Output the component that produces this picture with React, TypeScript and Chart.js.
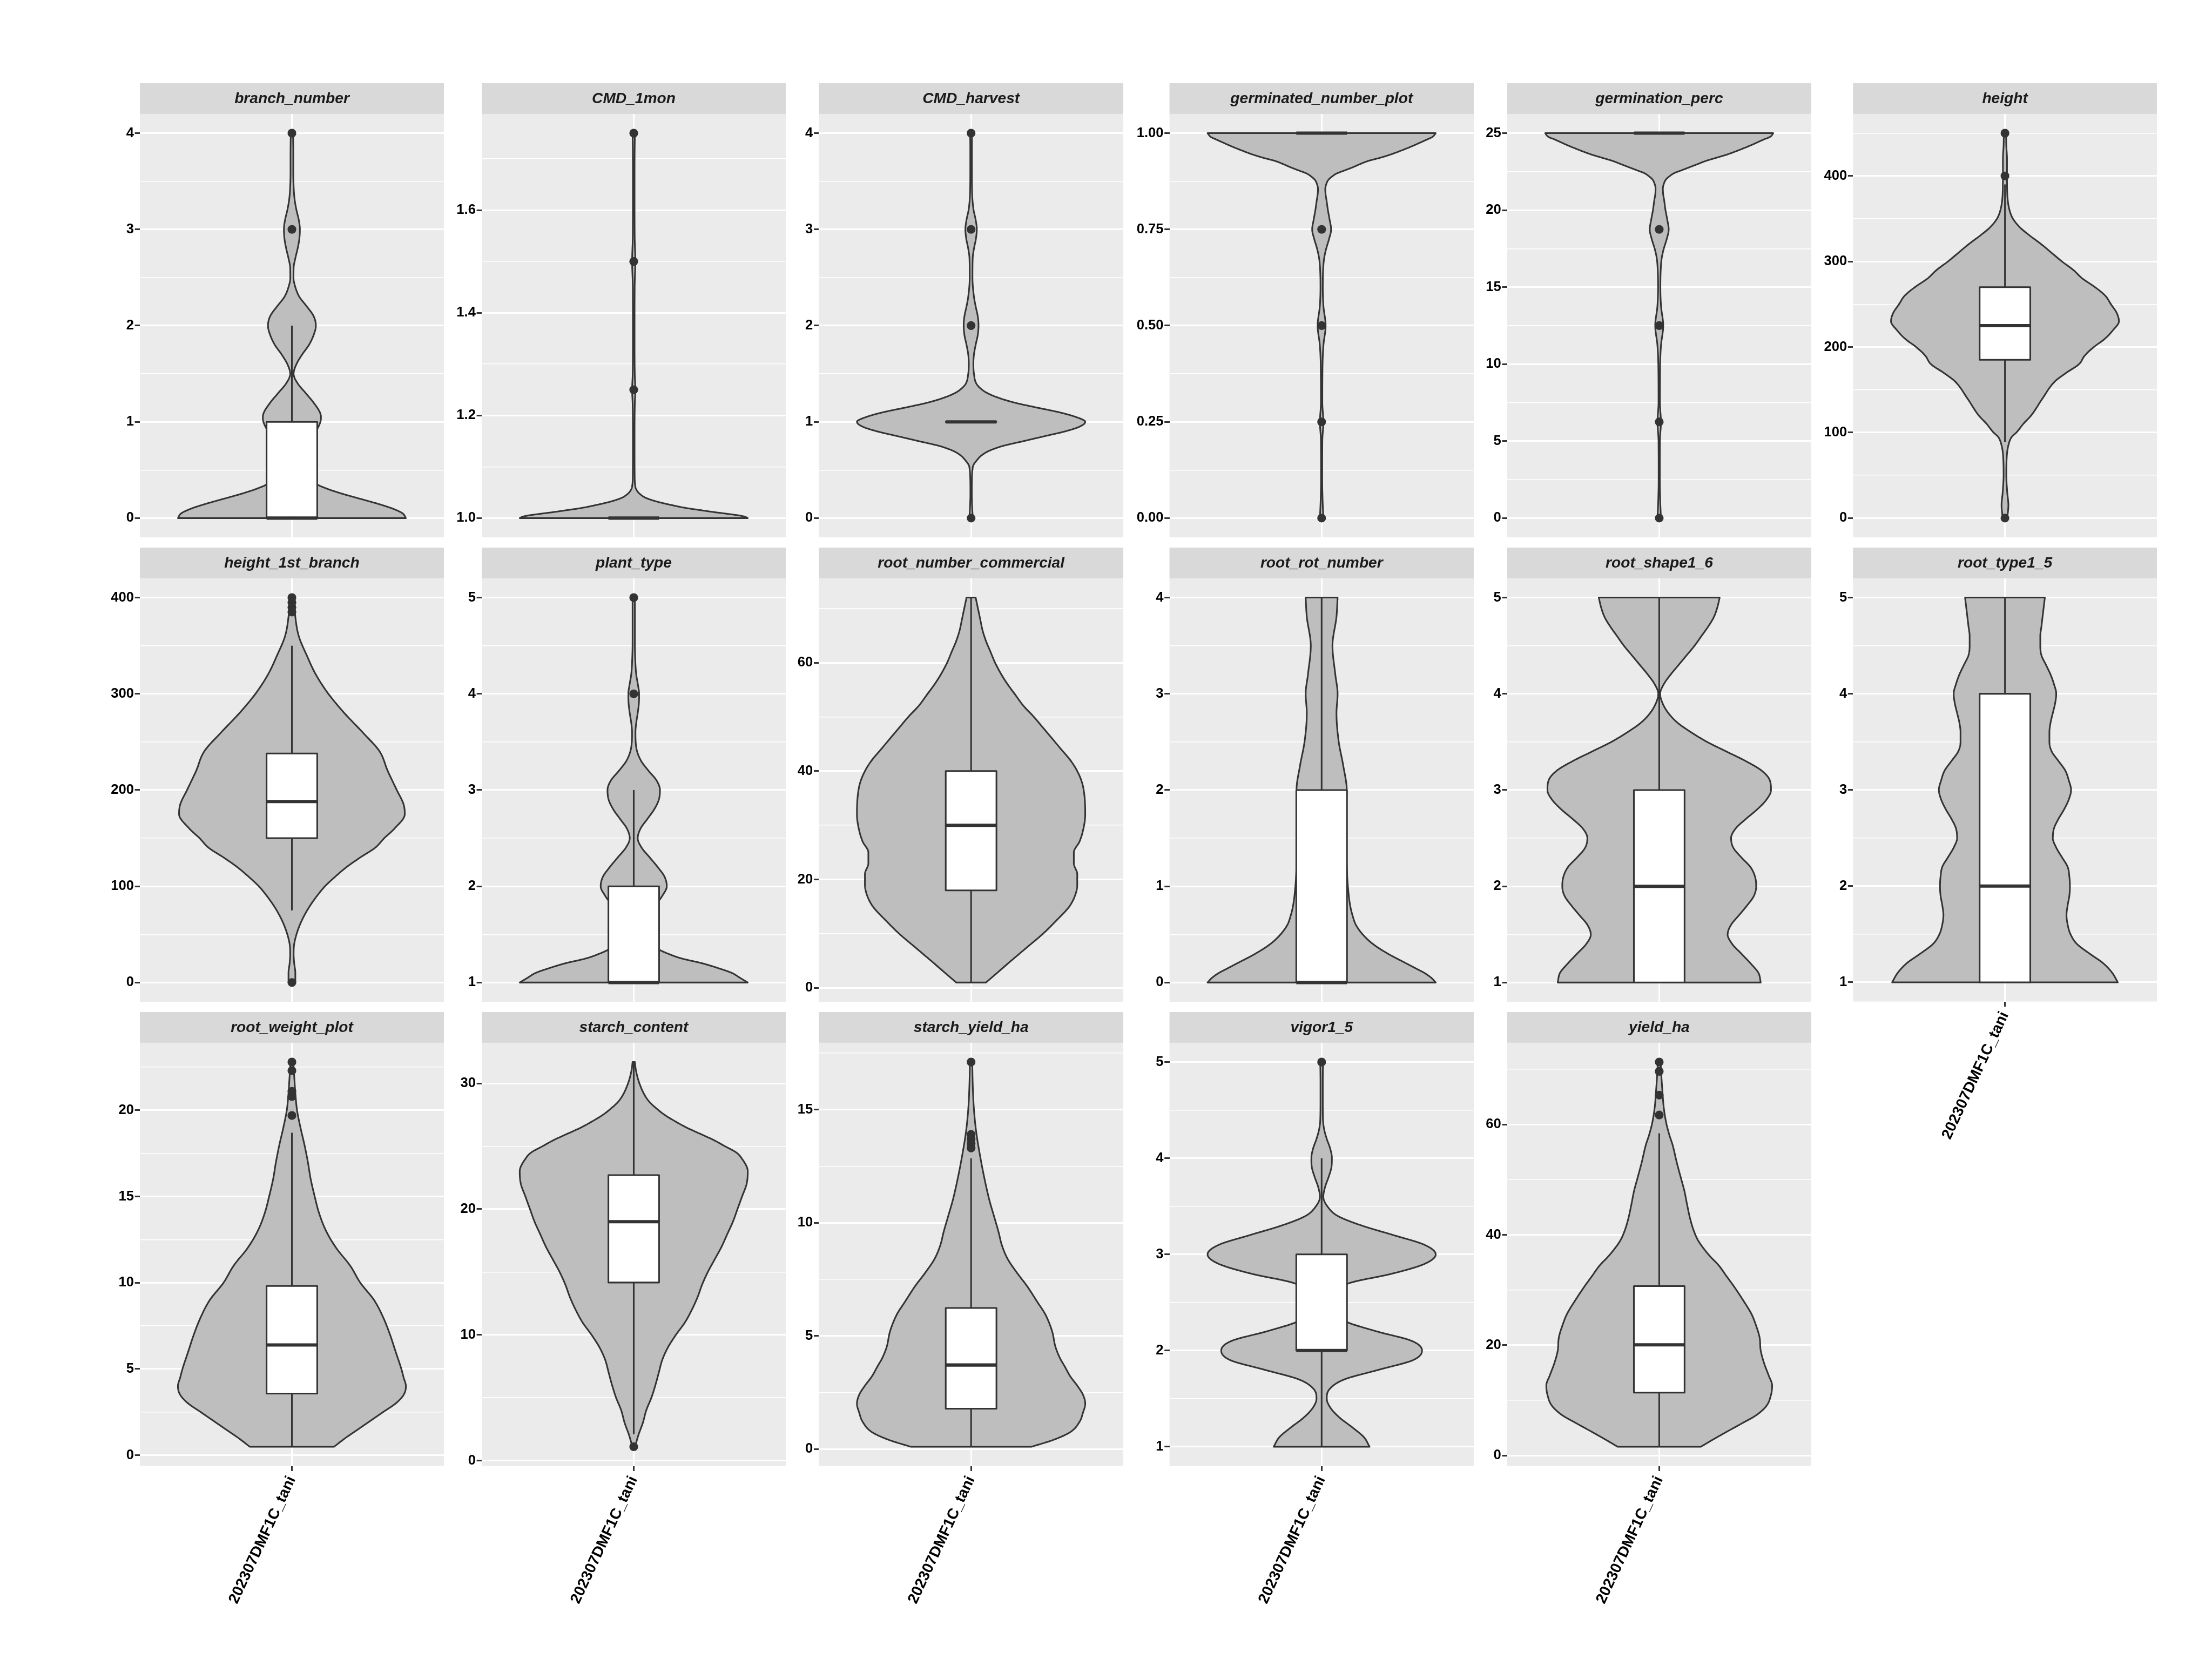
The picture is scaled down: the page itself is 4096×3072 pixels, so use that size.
import React, { useEffect, useRef } from "react";
import { Chart, registerables } from "chart.js";

Chart.register(...registerables);

// ---------------- DATA ----------------
// Violin profiles: [value, relative half-width (1 = widest)]
const V_branch_number: number[][] = [[0,1.0],[0.05,0.97],[0.1,0.88],[0.15,0.75],[0.2,0.6],[0.25,0.45],[0.3,0.32],[0.35,0.22],[0.4,0.17],[0.5,0.13],[0.6,0.12],[0.7,0.13],[0.8,0.16],[0.9,0.21],[1.0,0.25],[1.05,0.255],[1.1,0.245],[1.2,0.19],[1.3,0.12],[1.4,0.05],[1.5,0.015],[1.6,0.04],[1.7,0.09],[1.8,0.15],[1.9,0.19],[2.0,0.21],[2.1,0.19],[2.2,0.13],[2.3,0.065],[2.4,0.03],[2.5,0.014],[2.6,0.015],[2.7,0.03],[2.8,0.05],[2.9,0.065],[3.0,0.07],[3.1,0.06],[3.2,0.04],[3.3,0.025],[3.4,0.017],[3.6,0.012],[3.8,0.012],[4.0,0.01]];
const V_CMD_1mon: number[][] = [[1.0,1.0],[1.003,0.97],[1.006,0.9],[1.01,0.76],[1.015,0.6],[1.02,0.45],[1.025,0.34],[1.03,0.24],[1.035,0.16],[1.04,0.1],[1.045,0.065],[1.05,0.04],[1.057,0.02],[1.065,0.012],[1.08,0.008],[1.15,0.007],[1.22,0.009],[1.25,0.014],[1.28,0.009],[1.35,0.007],[1.45,0.008],[1.5,0.014],[1.55,0.008],[1.65,0.007],[1.72,0.008],[1.75,0.01]];
const V_CMD_harvest: number[][] = [[0,0.015],[0.1,0.01],[0.25,0.006],[0.4,0.007],[0.5,0.012],[0.55,0.02],[0.6,0.05],[0.65,0.09],[0.7,0.16],[0.75,0.28],[0.8,0.46],[0.85,0.64],[0.9,0.82],[0.95,0.95],[1.0,1.0],[1.05,0.92],[1.1,0.77],[1.15,0.57],[1.2,0.38],[1.25,0.24],[1.3,0.14],[1.35,0.08],[1.4,0.045],[1.5,0.025],[1.6,0.02],[1.7,0.025],[1.8,0.04],[1.9,0.058],[2.0,0.065],[2.1,0.058],[2.2,0.04],[2.3,0.025],[2.5,0.012],[2.7,0.014],[2.8,0.025],[2.9,0.042],[3.0,0.05],[3.1,0.04],[3.2,0.022],[3.35,0.01],[3.6,0.007],[3.9,0.007],[4.0,0.01]];
const V_germinated_number_plot: number[][] = [[0,0.015],[0.05,0.008],[0.1,0.005],[0.2,0.006],[0.25,0.015],[0.3,0.006],[0.4,0.008],[0.45,0.016],[0.5,0.035],[0.55,0.016],[0.6,0.01],[0.65,0.014],[0.675,0.022],[0.7,0.04],[0.725,0.065],[0.75,0.083],[0.775,0.07],[0.8,0.055],[0.827,0.042],[0.84,0.035],[0.855,0.032],[0.867,0.04],[0.879,0.06],[0.887,0.09],[0.895,0.13],[0.903,0.2],[0.911,0.27],[0.92,0.34],[0.928,0.41],[0.935,0.5],[0.943,0.59],[0.955,0.7],[0.967,0.8],[0.975,0.86],[0.983,0.92],[0.99,0.97],[1.0,1.0]];
const V_germination_perc: number[][] = [[0,0.015],[1.25,0.008],[2.5,0.005],[5,0.006],[6.25,0.015],[7.5,0.006],[10,0.008],[11.25,0.016],[12.5,0.035],[13.75,0.016],[15,0.01],[16.25,0.014],[16.9,0.022],[17.5,0.04],[18.1,0.065],[18.75,0.083],[19.4,0.07],[20,0.055],[20.7,0.042],[21,0.035],[21.4,0.032],[21.7,0.04],[22,0.06],[22.2,0.09],[22.4,0.13],[22.6,0.2],[22.8,0.27],[23,0.34],[23.2,0.41],[23.4,0.5],[23.6,0.59],[23.9,0.7],[24.2,0.8],[24.4,0.86],[24.6,0.92],[24.75,0.97],[25,1.0]];
const V_height: number[][] = [[0,0.02],[15,0.03],[30,0.02],[50,0.012],[70,0.015],[85,0.03],[95,0.06],[100,0.1],[110,0.16],[120,0.23],[140,0.33],[160,0.44],[170,0.54],[180,0.65],[190,0.7],[200,0.78],[210,0.88],[220,0.95],[230,1.0],[240,0.98],[250,0.93],[260,0.88],[270,0.79],[280,0.68],[290,0.6],[300,0.5],[310,0.41],[320,0.32],[330,0.22],[340,0.13],[350,0.07],[360,0.04],[380,0.02],[400,0.018],[420,0.018],[435,0.012],[450,0.01]];
const V_height_1st_branch: number[][] = [[0,0.03],[10,0.03],[20,0.02],[30,0.015],[40,0.02],[50,0.04],[60,0.07],[70,0.11],[80,0.16],[90,0.22],[100,0.29],[110,0.38],[120,0.48],[130,0.6],[140,0.73],[150,0.81],[160,0.9],[175,0.99],[185,0.98],[200,0.92],[220,0.84],[240,0.77],[260,0.62],[280,0.46],[300,0.32],[320,0.21],[340,0.13],[360,0.06],[380,0.03],[400,0.02]];
const V_plant_type: number[][] = [[1.0,1.0],[1.05,0.93],[1.1,0.86],[1.15,0.74],[1.2,0.6],[1.25,0.42],[1.3,0.3],[1.35,0.21],[1.4,0.16],[1.5,0.12],[1.6,0.12],[1.7,0.14],[1.8,0.19],[1.9,0.25],[2.0,0.29],[2.1,0.27],[2.2,0.21],[2.3,0.14],[2.4,0.07],[2.5,0.035],[2.6,0.06],[2.7,0.12],[2.8,0.18],[2.9,0.22],[3.0,0.23],[3.1,0.2],[3.2,0.13],[3.3,0.066],[3.4,0.03],[3.5,0.017],[3.6,0.015],[3.7,0.022],[3.8,0.035],[3.9,0.045],[4.0,0.047],[4.1,0.036],[4.2,0.022],[4.4,0.012],[4.6,0.01],[4.8,0.01],[5.0,0.01]];
const V_root_number_commercial: number[][] = [[1,0.13],[3,0.24],[5,0.35],[7.5,0.49],[10,0.63],[12.5,0.75],[15,0.86],[17,0.91],[19,0.93],[21,0.93],[23,0.9],[25,0.9],[27,0.95],[29,0.98],[32,1.0],[36,0.99],[38,0.97],[40,0.93],[42,0.87],[44,0.79],[46,0.71],[48,0.63],[50,0.55],[52,0.46],[54,0.39],[56,0.32],[58,0.26],[60,0.21],[62,0.17],[64,0.13],[66,0.1],[68,0.08],[70,0.06],[72,0.04]];
const V_root_rot_number: number[][] = [[0,1.0],[0.05,0.96],[0.1,0.9],[0.15,0.82],[0.2,0.74],[0.3,0.58],[0.4,0.45],[0.5,0.36],[0.6,0.3],[0.7,0.27],[0.8,0.25],[1.0,0.23],[1.2,0.22],[1.5,0.21],[1.8,0.215],[2.0,0.22],[2.25,0.19],[2.5,0.15],[2.8,0.13],[3.0,0.14],[3.2,0.12],[3.5,0.095],[3.8,0.13],[4.0,0.14]];
const V_root_shape1_6: number[][] = [[1.0,0.89],[1.1,0.87],[1.2,0.8],[1.3,0.72],[1.4,0.64],[1.5,0.6],[1.6,0.63],[1.7,0.7],[1.8,0.77],[1.9,0.83],[2.0,0.85],[2.1,0.84],[2.2,0.8],[2.3,0.72],[2.4,0.65],[2.5,0.63],[2.6,0.67],[2.7,0.76],[2.8,0.86],[2.9,0.94],[3.0,0.98],[3.1,0.97],[3.2,0.9],[3.3,0.76],[3.4,0.59],[3.5,0.42],[3.6,0.28],[3.7,0.16],[3.8,0.08],[3.9,0.03],[4.0,0.008],[4.1,0.04],[4.2,0.1],[4.3,0.17],[4.4,0.24],[4.5,0.31],[4.6,0.37],[4.7,0.43],[4.8,0.48],[4.9,0.51],[5.0,0.53]];
const V_root_type1_5: number[][] = [[1.0,0.99],[1.1,0.94],[1.2,0.86],[1.3,0.74],[1.4,0.63],[1.5,0.575],[1.6,0.55],[1.7,0.54],[1.8,0.55],[1.9,0.565],[2.0,0.57],[2.1,0.565],[2.2,0.55],[2.3,0.5],[2.4,0.45],[2.5,0.42],[2.6,0.43],[2.7,0.47],[2.8,0.52],[2.9,0.56],[3.0,0.58],[3.1,0.56],[3.2,0.53],[3.3,0.47],[3.4,0.41],[3.5,0.39],[3.6,0.39],[3.7,0.4],[3.8,0.42],[3.9,0.44],[4.0,0.45],[4.1,0.43],[4.2,0.4],[4.3,0.36],[4.4,0.32],[4.5,0.31],[4.6,0.31],[4.7,0.32],[4.8,0.33],[4.9,0.34],[5.0,0.35]];
const V_root_weight_plot: number[][] = [[0.49,0.37],[1,0.47],[1.5,0.58],[2,0.69],[2.5,0.8],[3,0.91],[3.5,0.98],[4,1.0],[4.5,0.98],[5,0.96],[6,0.91],[7,0.86],[8,0.8],[9,0.72],[10,0.6],[11,0.51],[12,0.39],[13,0.3],[14,0.24],[15,0.2],[16,0.165],[17,0.14],[18,0.11],[19,0.075],[20,0.045],[21,0.03],[22,0.02],[22.8,0.012]];
const V_starch_content: number[][] = [[1.1,0.012],[2,0.04],[3,0.08],[4,0.11],[5,0.155],[6,0.19],[7,0.22],[8,0.25],[9,0.3],[10,0.37],[11,0.45],[12,0.51],[13,0.56],[14,0.6],[15,0.65],[16,0.71],[17,0.77],[18,0.82],[19,0.87],[20,0.91],[21,0.95],[22,0.99],[23,1.0],[24,0.95],[24.5,0.9],[25,0.8],[25.5,0.7],[26,0.58],[26.5,0.46],[27,0.36],[27.5,0.27],[28,0.2],[28.5,0.14],[29,0.1],[30,0.05],[31,0.02],[31.7,0.01]];
const V_starch_yield_ha: number[][] = [[0.1,0.53],[0.4,0.72],[0.75,0.87],[1.2,0.95],[1.6,0.98],[2,1.0],[2.4,0.98],[2.8,0.93],[3.2,0.87],[3.65,0.82],[4,0.78],[4.5,0.74],[5.2,0.71],[5.95,0.65],[6.5,0.58],[7.2,0.49],[7.8,0.4],[8.4,0.32],[9,0.27],[9.6,0.24],[10.3,0.2],[11,0.16],[12,0.115],[13,0.077],[14,0.045],[15,0.025],[16,0.015],[17.1,0.01]];
const V_vigor1_5: number[][] = [[1.0,0.42],[1.1,0.37],[1.2,0.27],[1.3,0.16],[1.4,0.08],[1.5,0.045],[1.6,0.07],[1.7,0.2],[1.8,0.5],[1.9,0.8],[2.0,0.88],[2.1,0.79],[2.2,0.48],[2.3,0.215],[2.4,0.12],[2.5,0.1],[2.6,0.13],[2.7,0.24],[2.8,0.62],[2.9,0.9],[3.0,1.0],[3.1,0.9],[3.2,0.63],[3.3,0.35],[3.4,0.14],[3.5,0.05],[3.6,0.015],[3.7,0.03],[3.8,0.06],[3.9,0.085],[4.0,0.09],[4.1,0.075],[4.2,0.045],[4.3,0.022],[4.4,0.012],[4.6,0.01],[4.8,0.01],[5.0,0.012]];
const V_yield_ha: number[][] = [[1.6,0.365],[3,0.48],[4.4,0.6],[6,0.74],[7.3,0.85],[9,0.94],[11,0.98],[12.7,0.99],[14.5,0.96],[16.7,0.92],[19,0.89],[21.4,0.88],[23.5,0.85],[25.6,0.81],[28,0.74],[30.5,0.66],[32.5,0.59],[34.5,0.52],[36,0.45],[37.5,0.39],[39,0.34],[40.9,0.3],[43,0.27],[45.4,0.245],[48,0.22],[50.3,0.19],[53,0.155],[56.3,0.117],[58,0.09],[60.2,0.062],[63,0.04],[66,0.028],[69,0.018],[71.3,0.012]];

// Box stats: [lower whisker, Q1, median, Q3, upper whisker]
const B_branch_number = [0, 0, 0, 1, 2];
const B_CMD_1mon = [1, 1, 1, 1, 1];
const B_CMD_harvest = [1, 1, 1, 1, 1];
const B_germinated_number_plot = [1, 1, 1, 1, 1];
const B_germination_perc = [25, 25, 25, 25, 25];
const B_height = [89, 185, 225, 270, 390];
const B_height_1st_branch = [75, 150, 188, 238, 350];
const B_plant_type = [1, 1, 1, 2, 3];
const B_root_number_commercial = [1, 18, 30, 40, 72];
const B_root_rot_number = [0, 0, 0, 2, 4];
const B_root_shape1_6 = [1, 1, 2, 3, 5];
const B_root_type1_5 = [1, 1, 2, 4, 5];
const B_root_weight_plot = [0.49, 3.57, 6.39, 9.81, 18.7];
const B_starch_content = [2.1, 14.16, 19.0, 22.7, 31.7];
const B_starch_yield_ha = [0.1, 1.78, 3.71, 6.23, 12.84];
const B_vigor1_5 = [1, 2, 2, 3, 4];
const B_yield_ha = [1.6, 11.4, 20.05, 30.7, 58.4];

// Outliers
const O_branch_number = [3, 4];
const O_CMD_1mon = [1.25, 1.5, 1.75];
const O_CMD_harvest = [0, 2, 3, 4];
const O_germinated_number_plot = [0, 0.25, 0.5, 0.75];
const O_germination_perc = [0, 6.25, 12.5, 18.75];
const O_height = [0, 400, 450];
const O_height_1st_branch = [0, 385, 390, 395, 400];
const O_plant_type = [4, 5];
const O_root_number_commercial: number[] = [];
const O_root_rot_number: number[] = [];
const O_root_shape1_6: number[] = [];
const O_root_type1_5: number[] = [];
const O_root_weight_plot = [19.7, 20.8, 21.1, 22.3, 22.8];
const O_starch_content = [1.1];
const O_starch_yield_ha = [13.3, 13.5, 13.7, 13.9, 17.1];
const O_vigor1_5 = [5];
const O_yield_ha = [61.7, 65.3, 69.6, 71.3];

// Y tick labels
const T_branch_number = ["0", "1", "2", "3", "4"];
const T_CMD_1mon = ["1.0", "1.2", "1.4", "1.6"];
const T_CMD_harvest = ["0", "1", "2", "3", "4"];
const T_germinated_number_plot = ["0.00", "0.25", "0.50", "0.75", "1.00"];
const T_germination_perc = ["0", "5", "10", "15", "20", "25"];
const T_height = ["0", "100", "200", "300", "400"];
const T_height_1st_branch = ["0", "100", "200", "300", "400"];
const T_plant_type = ["1", "2", "3", "4", "5"];
const T_root_number_commercial = ["0", "20", "40", "60"];
const T_root_rot_number = ["0", "1", "2", "3", "4"];
const T_root_shape1_6 = ["1", "2", "3", "4", "5"];
const T_root_type1_5 = ["1", "2", "3", "4", "5"];
const T_root_weight_plot = ["0", "5", "10", "15", "20"];
const T_starch_content = ["0", "10", "20", "30"];
const T_starch_yield_ha = ["0", "5", "10", "15"];
const T_vigor1_5 = ["1", "2", "3", "4", "5"];
const T_yield_ha = ["0", "20", "40", "60"];

const X_CATEGORY = "202307DMF1C_tani";
const PANEL_NAMES = ["branch_number", "CMD_1mon", "CMD_harvest", "germinated_number_plot", "germination_perc", "height", "height_1st_branch", "plant_type", "root_number_commercial", "root_rot_number", "root_shape1_6", "root_type1_5", "root_weight_plot", "starch_content", "starch_yield_ha", "vigor1_5", "yield_ha"];
const PANEL_VIOLINS = [V_branch_number, V_CMD_1mon, V_CMD_harvest, V_germinated_number_plot, V_germination_perc, V_height, V_height_1st_branch, V_plant_type, V_root_number_commercial, V_root_rot_number, V_root_shape1_6, V_root_type1_5, V_root_weight_plot, V_starch_content, V_starch_yield_ha, V_vigor1_5, V_yield_ha];
const PANEL_BOXES = [B_branch_number, B_CMD_1mon, B_CMD_harvest, B_germinated_number_plot, B_germination_perc, B_height, B_height_1st_branch, B_plant_type, B_root_number_commercial, B_root_rot_number, B_root_shape1_6, B_root_type1_5, B_root_weight_plot, B_starch_content, B_starch_yield_ha, B_vigor1_5, B_yield_ha];
const PANEL_OUTLIERS = [O_branch_number, O_CMD_1mon, O_CMD_harvest, O_germinated_number_plot, O_germination_perc, O_height, O_height_1st_branch, O_plant_type, O_root_number_commercial, O_root_rot_number, O_root_shape1_6, O_root_type1_5, O_root_weight_plot, O_starch_content, O_starch_yield_ha, O_vigor1_5, O_yield_ha];
const PANEL_TICKS = [T_branch_number, T_CMD_1mon, T_CMD_harvest, T_germinated_number_plot, T_germination_perc, T_height, T_height_1st_branch, T_plant_type, T_root_number_commercial, T_root_rot_number, T_root_shape1_6, T_root_type1_5, T_root_weight_plot, T_starch_content, T_starch_yield_ha, T_vigor1_5, T_yield_ha];

// ---------------- LAYOUT & STYLE (reference px, scaled by S) ----------------
const S = 4096 / 4800;
const FONT_FAMILY = '"Liberation Sans", Arial, Helvetica, sans-serif';
const COL_LEFT = [303.6, 1045.3, 1777, 2537.8, 3270.5, 4021];
const ROW_TOP = [180, 1188.3, 2196.6];
const STRIP_H = 66.7;
const PANEL_W = 660;
const PANEL_H = 918.3;
const AXIS_W = 130;
const XAXIS_H = 400;
const LW = 3.56 * S;
const MEDIAN_LW = 7.1 * S;
const GRID_MAJOR = 3.56 * S;
const GRID_MINOR = 1.78 * S;
const TICK_LEN = 11 * S;
const PT_R = 9.5 * S;
const TICK_FONT = 30 * S;
const STRIP_FONT = 33 * S;
const XLAB_FONT = 33 * S;
const VIOLIN_HALF = 0.45;
const BOX_HALF = 0.1;

function monotoneSample(pts: number[][], per: number): number[][] {
  const n = pts.length;
  const xs = pts.map((p) => p[0]);
  const ys = pts.map((p) => p[1]);
  if (n < 2) return pts.slice();
  const d: number[] = [];
  for (let i = 0; i < n - 1; i++) d.push((ys[i + 1] - ys[i]) / (xs[i + 1] - xs[i]));
  const m: number[] = new Array(n).fill(0);
  m[0] = d[0];
  m[n - 1] = d[n - 2];
  for (let i = 1; i < n - 1; i++) m[i] = d[i - 1] * d[i] <= 0 ? 0 : (d[i - 1] + d[i]) / 2;
  for (let i = 0; i < n - 1; i++) {
    if (d[i] === 0) { m[i] = 0; m[i + 1] = 0; continue; }
    const a = m[i] / d[i];
    const b = m[i + 1] / d[i];
    const s = a * a + b * b;
    if (s > 9) {
      const t = 3 / Math.sqrt(s);
      m[i] = t * a * d[i];
      m[i + 1] = t * b * d[i];
    }
  }
  const out: number[][] = [];
  for (let i = 0; i < n - 1; i++) {
    const h = xs[i + 1] - xs[i];
    for (let k = 0; k < per; k++) {
      const t = k / per;
      const t2 = t * t, t3 = t2 * t;
      const h00 = 2 * t3 - 3 * t2 + 1, h10 = t3 - 2 * t2 + t, h01 = -2 * t3 + 3 * t2, h11 = t3 - t2;
      const y = h00 * ys[i] + h10 * h * m[i] + h01 * ys[i + 1] + h11 * h * m[i + 1];
      out.push([xs[i] + t * h, Math.max(0.002, y)]);
    }
  }
  out.push([xs[n - 1], ys[n - 1]]);
  return out;
}

function makeDecor(name: string, violin: number[][], box: number[]) {
  return {
    id: "panelDecor",
    beforeDraw(chart: any) {
      const { ctx, chartArea: a } = chart;
      ctx.save();
      ctx.fillStyle = "#EBEBEB";
      ctx.fillRect(a.left, a.top, a.right - a.left, a.bottom - a.top);
      ctx.fillStyle = "#D9D9D9";
      ctx.fillRect(a.left, 0, a.right - a.left, a.top);
      ctx.fillStyle = "#1A1A1A";
      ctx.font = `italic bold ${STRIP_FONT}px ${FONT_FAMILY}`;
      ctx.textAlign = "center";
      ctx.textBaseline = "middle";
      ctx.fillText(name, (a.left + a.right) / 2, a.top / 2 + 1);
      ctx.restore();
    },
    beforeDatasetsDraw(chart: any) {
      const { ctx } = chart;
      const xs = chart.scales.x;
      const ys = chart.scales.y;
      const samples = monotoneSample(violin, 16);
      ctx.save();
      ctx.beginPath();
      samples.forEach((p, i) => {
        const px = xs.getPixelForValue(VIOLIN_HALF * p[1]);
        const py = ys.getPixelForValue(p[0]);
        if (i === 0) ctx.moveTo(px, py); else ctx.lineTo(px, py);
      });
      for (let i = samples.length - 1; i >= 0; i--) {
        const p = samples[i];
        ctx.lineTo(xs.getPixelForValue(-VIOLIN_HALF * p[1]), ys.getPixelForValue(p[0]));
      }
      ctx.closePath();
      ctx.fillStyle = "#BEBEBE";
      ctx.fill();
      ctx.lineWidth = LW;
      ctx.strokeStyle = "#333333";
      ctx.lineJoin = "round";
      ctx.stroke();

      const [lo, q1, med, q3, hi] = box;
      const cx = xs.getPixelForValue(0);
      const bl = xs.getPixelForValue(-BOX_HALF);
      const br = xs.getPixelForValue(BOX_HALF);
      const yq1 = ys.getPixelForValue(q1);
      const yq3 = ys.getPixelForValue(q3);
      ctx.beginPath();
      ctx.moveTo(cx, yq3);
      ctx.lineTo(cx, ys.getPixelForValue(hi));
      ctx.moveTo(cx, yq1);
      ctx.lineTo(cx, ys.getPixelForValue(lo));
      ctx.lineCap = "butt";
      ctx.stroke();
      ctx.fillStyle = "#FFFFFF";
      ctx.fillRect(bl, yq3, br - bl, yq1 - yq3);
      ctx.strokeRect(bl, yq3, br - bl, yq1 - yq3);
      const ym = ys.getPixelForValue(med);
      ctx.beginPath();
      ctx.lineWidth = MEDIAN_LW;
      ctx.moveTo(bl, ym);
      ctx.lineTo(br, ym);
      ctx.stroke();
      ctx.restore();
    },
  };
}

type PanelProps = { index: number };

function PanelChart({ index }: PanelProps) {
  const ref = useRef<HTMLCanvasElement>(null);
  const row = Math.floor(index / 6);
  const col = index % 6;
  const hasX = index >= 11;
  const left = Math.round((COL_LEFT[col] - AXIS_W) * S);
  const top = Math.round(ROW_TOP[row] * S);
  const width = Math.round((COL_LEFT[col] + PANEL_W) * S) - left;
  const bodyH = (STRIP_H + PANEL_H) * S;
  const height = Math.round(bodyH + (hasX ? XAXIS_H * S : 0));
  const yAxisW = COL_LEFT[col] * S - left;
  const xAxisH = hasX ? height - bodyH : 0;

  useEffect(() => {
    const canvas = ref.current;
    if (!canvas) return;
    const name = PANEL_NAMES[index];
    const violin = PANEL_VIOLINS[index];
    const box = PANEL_BOXES[index];
    const outliers = PANEL_OUTLIERS[index];
    const tickLabels = PANEL_TICKS[index];

    const vals = violin.map((p) => p[0]).concat(outliers, box);
    const dmin = Math.min(...vals);
    const dmax = Math.max(...vals);
    const pad = (dmax - dmin) * 0.05;
    const ymin = dmin - pad;
    const ymax = dmax + pad;

    const majors = tickLabels.map((t) => ({ value: parseFloat(t), label: t, major: true }));
    const step = majors[1].value - majors[0].value;
    const minors: { value: number; label: string; major: boolean }[] = [];
    for (let i = -1; i < majors.length; i++) {
      const v = i < 0 ? majors[0].value - step / 2 : majors[i].value + step / 2;
      if (v > ymin && v < ymax) minors.push({ value: v, label: "", major: false });
    }
    const allTicks = [...majors, ...minors].sort((a, b) => a.value - b.value);

    const chart = new Chart(canvas, {
      type: "scatter",
      data: {
        datasets: [
          {
            data: outliers.map((v) => ({ x: 0, y: v })),
            pointRadius: PT_R,
            pointHoverRadius: PT_R,
            pointBackgroundColor: "#333333",
            pointBorderColor: "#333333",
            pointBorderWidth: 0,
            showLine: false,
            clip: false,
          },
        ],
      },
      options: {
        animation: false,
        responsive: false,
        maintainAspectRatio: false,
        devicePixelRatio: 1,
        events: [],
        layout: { autoPadding: false, padding: { top: STRIP_H * S, left: 0, right: 0, bottom: 0 } },
        plugins: {
          legend: { display: false },
          tooltip: { enabled: false },
          title: { display: false },
        },
        scales: {
          x: {
            type: "linear",
            min: -0.6,
            max: 0.6,
            bounds: "data",
            afterBuildTicks: (s: any) => {
              s.ticks = [{ value: 0 }];
            },
            afterFit: (s: any) => {
              s.height = xAxisH;
              s.paddingLeft = 0;
              s.paddingRight = 0;
              s.paddingTop = 0;
              s.paddingBottom = 0;
            },
            ticks: {
              display: hasX,
              autoSkip: false,
              minRotation: 65,
              maxRotation: 65,
              padding: 5 * S,
              color: "#000000",
              font: { family: FONT_FAMILY, size: XLAB_FONT, weight: "bold" },
              callback: () => X_CATEGORY,
            },
            grid: {
              color: "#FFFFFF",
              lineWidth: GRID_MAJOR,
              drawTicks: hasX,
              tickLength: TICK_LEN,
              tickColor: "#333333",
              tickWidth: LW,
            },
            border: { display: false },
          },
          y: {
            type: "linear",
            min: ymin,
            max: ymax,
            bounds: "data",
            afterBuildTicks: (s: any) => {
              s.ticks = allTicks.map((t) => ({ value: t.value }));
            },
            afterFit: (s: any) => {
              s.width = yAxisW;
              s.paddingTop = 0;
              s.paddingBottom = 0;
              s.paddingLeft = 0;
              s.paddingRight = 0;
            },
            ticks: {
              autoSkip: false,
              padding: 2 * S,
              color: "#000000",
              font: { family: FONT_FAMILY, size: TICK_FONT, weight: "bold" },
              callback: (_v: any, i: number) => (allTicks[i] ? allTicks[i].label : ""),
            },
            grid: {
              color: "#FFFFFF",
              lineWidth: (c: any) => (allTicks[c.index] && allTicks[c.index].major ? GRID_MAJOR : GRID_MINOR),
              drawTicks: true,
              tickLength: TICK_LEN,
              tickColor: (c: any) => (allTicks[c.index] && allTicks[c.index].major ? "#333333" : "rgba(0,0,0,0)"),
              tickWidth: LW,
            },
            border: { display: false },
          },
        },
      } as any,
      plugins: [makeDecor(name, violin, box) as any],
    });
    return () => chart.destroy();
  }, [index]);

  return (
    <canvas
      ref={ref}
      width={width}
      height={height}
      style={{ position: "absolute", left, top, width, height }}
    />
  );
}

export default function App() {
  return (
    <div
      style={{
        position: "absolute",
        left: 0,
        top: 0,
        width: 4096,
        height: 3072,
        background: "#FFFFFF",
        overflow: "hidden",
      }}
    >
      {PANEL_NAMES.map((n, i) => (
        <PanelChart key={n} index={i} />
      ))}
    </div>
  );
}
